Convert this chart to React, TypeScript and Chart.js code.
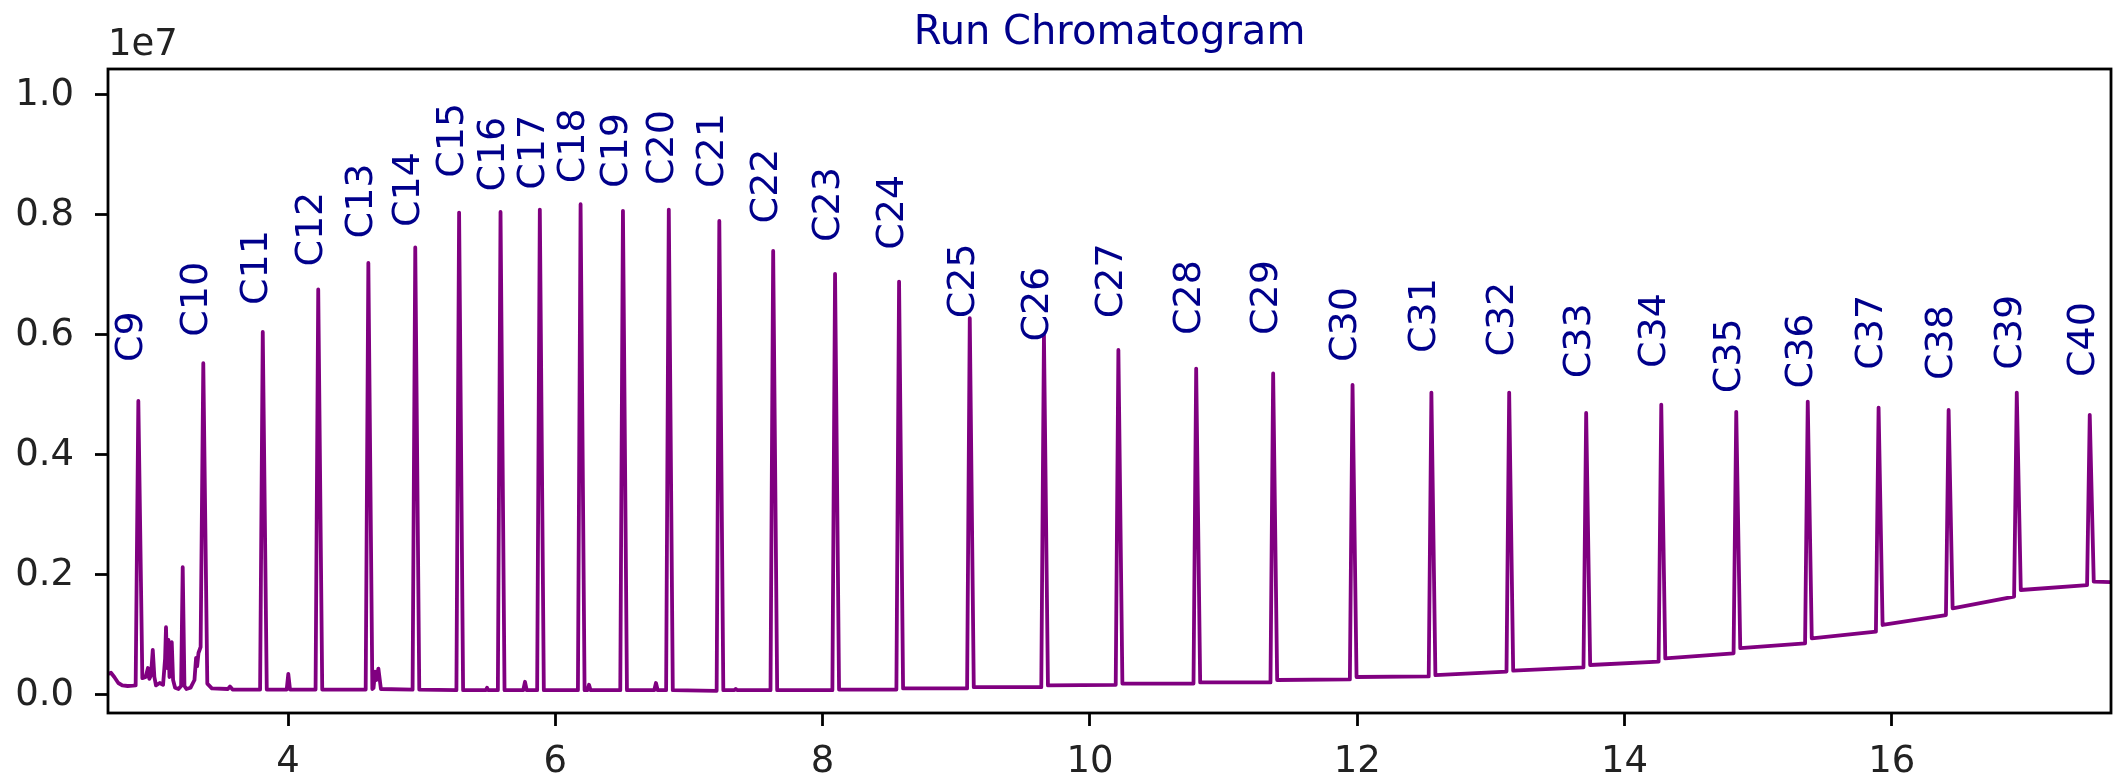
import React, { useEffect, useRef } from 'react';
import { Chart, registerables } from 'chart.js';

Chart.register(...registerables);

const FONT = "'DejaVu Sans', 'Liberation Sans', sans-serif";

// n-alkane peaks of the run (retention time in minutes, signal in counts)
const peakNames = [
  'C9', 'C10', 'C11', 'C12', 'C13', 'C14', 'C15', 'C16', 'C17', 'C18', 'C19',
  'C20', 'C21', 'C22', 'C23', 'C24', 'C25', 'C26', 'C27', 'C28', 'C29', 'C30',
  'C31', 'C32', 'C33', 'C34', 'C35', 'C36', 'C37', 'C38', 'C39', 'C40',
];
const peakTimes = [
  2.880, 3.366, 3.811, 4.226, 4.601, 4.952, 5.280, 5.590, 5.884, 6.189, 6.506,
  6.849, 7.227, 7.630, 8.093, 8.572, 9.101, 9.656, 10.213, 10.795, 11.371, 11.965,
  12.555, 13.137, 13.713, 14.275, 14.836, 15.371, 15.901, 16.425, 16.935, 17.481,
];
const peakHeights = [
  4.90e6, 5.53e6, 6.05e6, 6.76e6, 7.20e6, 7.46e6, 8.04e6, 8.05e6, 8.09e6, 8.18e6, 8.07e6,
  8.09e6, 7.90e6, 7.40e6, 7.02e6, 6.89e6, 6.28e6, 6.00e6, 5.75e6, 5.44e6, 5.36e6, 5.17e6,
  5.04e6, 5.04e6, 4.70e6, 4.84e6, 4.72e6, 4.89e6, 4.79e6, 4.75e6, 5.04e6, 4.67e6,
];
// signal where each peak leaves and rejoins the baseline
const footBefore = [
  0.16e6, 0.80e6, 0.09e6, 0.09e6, 0.09e6, 0.09e6, 0.08e6, 0.08e6, 0.08e6, 0.08e6, 0.08e6,
  0.08e6, 0.07e6, 0.08e6, 0.08e6, 0.09e6, 0.11e6, 0.13e6, 0.17e6, 0.19e6, 0.21e6, 0.26e6,
  0.31e6, 0.39e6, 0.46e6, 0.555e6, 0.695e6, 0.86e6, 1.055e6, 1.333e6, 1.64e6, 1.83e6,
];
const footAfter = [
  0.28e6, 0.19e6, 0.09e6, 0.09e6, 0.10e6, 0.09e6, 0.08e6, 0.08e6, 0.08e6, 0.08e6, 0.08e6,
  0.08e6, 0.08e6, 0.08e6, 0.09e6, 0.11e6, 0.13e6, 0.16e6, 0.19e6, 0.21e6, 0.25e6, 0.30e6,
  0.33e6, 0.405e6, 0.50e6, 0.61e6, 0.78e6, 0.945e6, 1.167e6, 1.445e6, 1.75e6, 1.89e6,
];
// signal level at which each peak name starts
const labelBases = [
  5.55e6, 5.97e6, 6.50e6, 7.14e6, 7.61e6, 7.80e6, 8.62e6, 8.39e6, 8.42e6, 8.53e6, 8.45e6,
  8.50e6, 8.45e6, 7.86e6, 7.55e6, 7.42e6, 6.28e6, 5.89e6, 6.28e6, 6.00e6, 6.00e6, 5.55e6,
  5.70e6, 5.64e6, 5.28e6, 5.45e6, 5.03e6, 5.11e6, 5.42e6, 5.25e6, 5.42e6, 5.30e6,
];
// baseline and minor, unlabelled peaks between the alkanes
const minorTrace: [number, number][] = [
  [2.653, 0.35e6], [2.675, 0.37e6], [2.700, 0.30e6], [2.730, 0.20e6], [2.760, 0.16e6],
  [2.800, 0.15e6], [2.840, 0.155e6],
  [2.935, 0.30e6], [2.952, 0.45e6], [2.962, 0.27e6], [2.975, 0.33e6], [2.988, 0.75e6],
  [3.000, 0.30e6], [3.012, 0.16e6], [3.040, 0.20e6], [3.065, 0.17e6], [3.080, 0.60e6],
  [3.087, 1.13e6], [3.095, 0.45e6], [3.105, 0.92e6], [3.113, 0.30e6], [3.122, 0.85e6],
  [3.130, 0.88e6], [3.140, 0.25e6], [3.155, 0.12e6], [3.180, 0.10e6], [3.200, 0.15e6],
  [3.212, 2.13e6], [3.225, 0.15e6], [3.240, 0.10e6], [3.270, 0.12e6], [3.300, 0.25e6],
  [3.312, 0.62e6], [3.320, 0.48e6], [3.330, 0.70e6],
  [3.430, 0.11e6], [3.550, 0.10e6], [3.566, 0.14e6], [3.585, 0.09e6],
  [3.990, 0.09e6], [4.002, 0.35e6], [4.015, 0.09e6],
  [4.640, 0.12e6], [4.651, 0.39e6], [4.662, 0.25e6], [4.676, 0.44e6], [4.695, 0.10e6],
  [5.480, 0.08e6], [5.489, 0.12e6], [5.498, 0.08e6],
  [5.760, 0.08e6], [5.773, 0.22e6], [5.786, 0.08e6],
  [6.240, 0.08e6], [6.252, 0.17e6], [6.264, 0.08e6],
  [6.740, 0.08e6], [6.753, 0.20e6], [6.766, 0.08e6],
  [7.340, 0.08e6], [7.350, 0.10e6], [7.360, 0.08e6],
  [17.640, 1.88e6],
];

const xTickValues = [4, 6, 8, 10, 12, 14, 16];
const yTickValues = [0, 2e6, 4e6, 6e6, 8e6, 1e7];

const X_MIN = 2.653;
const X_MAX = 17.64;
const Y_MIN = -3e5;
const Y_MAX = 1.04333e7;

// how far (min) a peak's rising and falling flanks reach from its apex
const LEAD = 0.02;
const TAIL = 0.03;

function buildTrace() {
  const pts = minorTrace.map(([x, y]) => ({ x, y }));
  peakTimes.forEach((t, i) => {
    pts.push({ x: t - LEAD, y: footBefore[i] });
    pts.push({ x: t, y: peakHeights[i] });
    pts.push({ x: t + TAIL, y: footAfter[i] });
  });
  pts.sort((a, b) => a.x - b.x);
  return pts;
}

const decorations = {
  id: 'decorations',
  afterDatasetsDraw(chart: any) {
    const { ctx, chartArea: a, scales } = chart;
    const xs = scales.x;
    const ys = scales.y;
    ctx.save();
    ctx.strokeStyle = '#000';
    ctx.lineWidth = 2.8;
    ctx.strokeRect(a.left, a.top, a.right - a.left, a.bottom - a.top);

    ctx.fillStyle = '#00008b';
    ctx.font = `38px ${FONT}`;
    ctx.textAlign = 'left';
    ctx.textBaseline = 'middle';
    peakNames.forEach((name, i) => {
      const x = xs.getPixelForValue(peakTimes[i]) - 6;
      const y = ys.getPixelForValue(labelBases[i]);
      ctx.save();
      ctx.translate(x, y);
      ctx.rotate(-Math.PI / 2);
      ctx.fillText(name, 0, 0);
      ctx.restore();
    });

    // chart title
    ctx.textAlign = 'center';
    ctx.textBaseline = 'alphabetic';
    ctx.font = `40px ${FONT}`;
    ctx.fillStyle = '#00008b';
    ctx.fillText('Run Chromatogram', (a.left + a.right) / 2, 43.5);

    // exponent of the y axis
    ctx.textAlign = 'left';
    ctx.font = `37px ${FONT}`;
    ctx.fillStyle = '#222';
    ctx.fillText('1e7', a.left, 55);
    ctx.restore();
  },
};

export default function App() {
  const canvasRef = useRef<HTMLCanvasElement | null>(null);

  useEffect(() => {
    const canvas = canvasRef.current;
    if (!canvas) return;
    const chart = new Chart(canvas, {
      type: 'line',
      data: {
        datasets: [
          {
            label: 'TIC',
            data: buildTrace(),
            borderColor: '#800080',
            borderWidth: 3.8,
            pointRadius: 0,
            tension: 0,
            borderJoinStyle: 'round',
            fill: false,
          },
        ],
      },
      options: {
        animation: false,
        responsive: false,
        devicePixelRatio: 1,
        layout: { padding: { left: 0, right: 2, top: 69, bottom: 0 } },
        plugins: {
          legend: { display: false },
          tooltip: { enabled: false },
          title: { display: false },
        },
        scales: {
          x: {
            type: 'linear',
            min: X_MIN,
            max: X_MAX,
            afterBuildTicks: (s: any) => {
              s.ticks = xTickValues.map((v) => ({ value: v }));
            },
            afterFit: (s: any) => {
              s.height = 67;
            },
            grid: {
              display: true,
              drawOnChartArea: false,
              drawTicks: true,
              tickLength: 13,
              tickWidth: 2.8,
              tickColor: '#000',
            },
            border: { display: false },
            ticks: {
              autoSkip: false,
              maxRotation: 0,
              padding: 14,
              color: '#222',
              font: { family: FONT, size: 37 },
              callback: (v: any) => String(v),
            },
          },
          y: {
            type: 'linear',
            min: Y_MIN,
            max: Y_MAX,
            afterBuildTicks: (s: any) => {
              s.ticks = yTickValues.map((v) => ({ value: v }));
            },
            afterFit: (s: any) => {
              s.width = 108;
            },
            grid: {
              display: true,
              drawOnChartArea: false,
              drawTicks: true,
              tickLength: 13,
              tickWidth: 2.8,
              tickColor: '#000',
            },
            border: { display: false },
            ticks: {
              autoSkip: false,
              padding: 21,
              color: '#222',
              font: { family: FONT, size: 37 },
              callback: (v: any) => (Number(v) / 1e7).toFixed(1),
            },
          },
        },
      },
      plugins: [decorations],
    });
    return () => chart.destroy();
  }, []);

  return (
    <div style={{ position: 'fixed', left: 0, top: 0, width: 2113, height: 780, background: '#fff' }}>
      <canvas ref={canvasRef} width={2113} height={780} style={{ width: 2113, height: 780, display: 'block' }} />
    </div>
  );
}
